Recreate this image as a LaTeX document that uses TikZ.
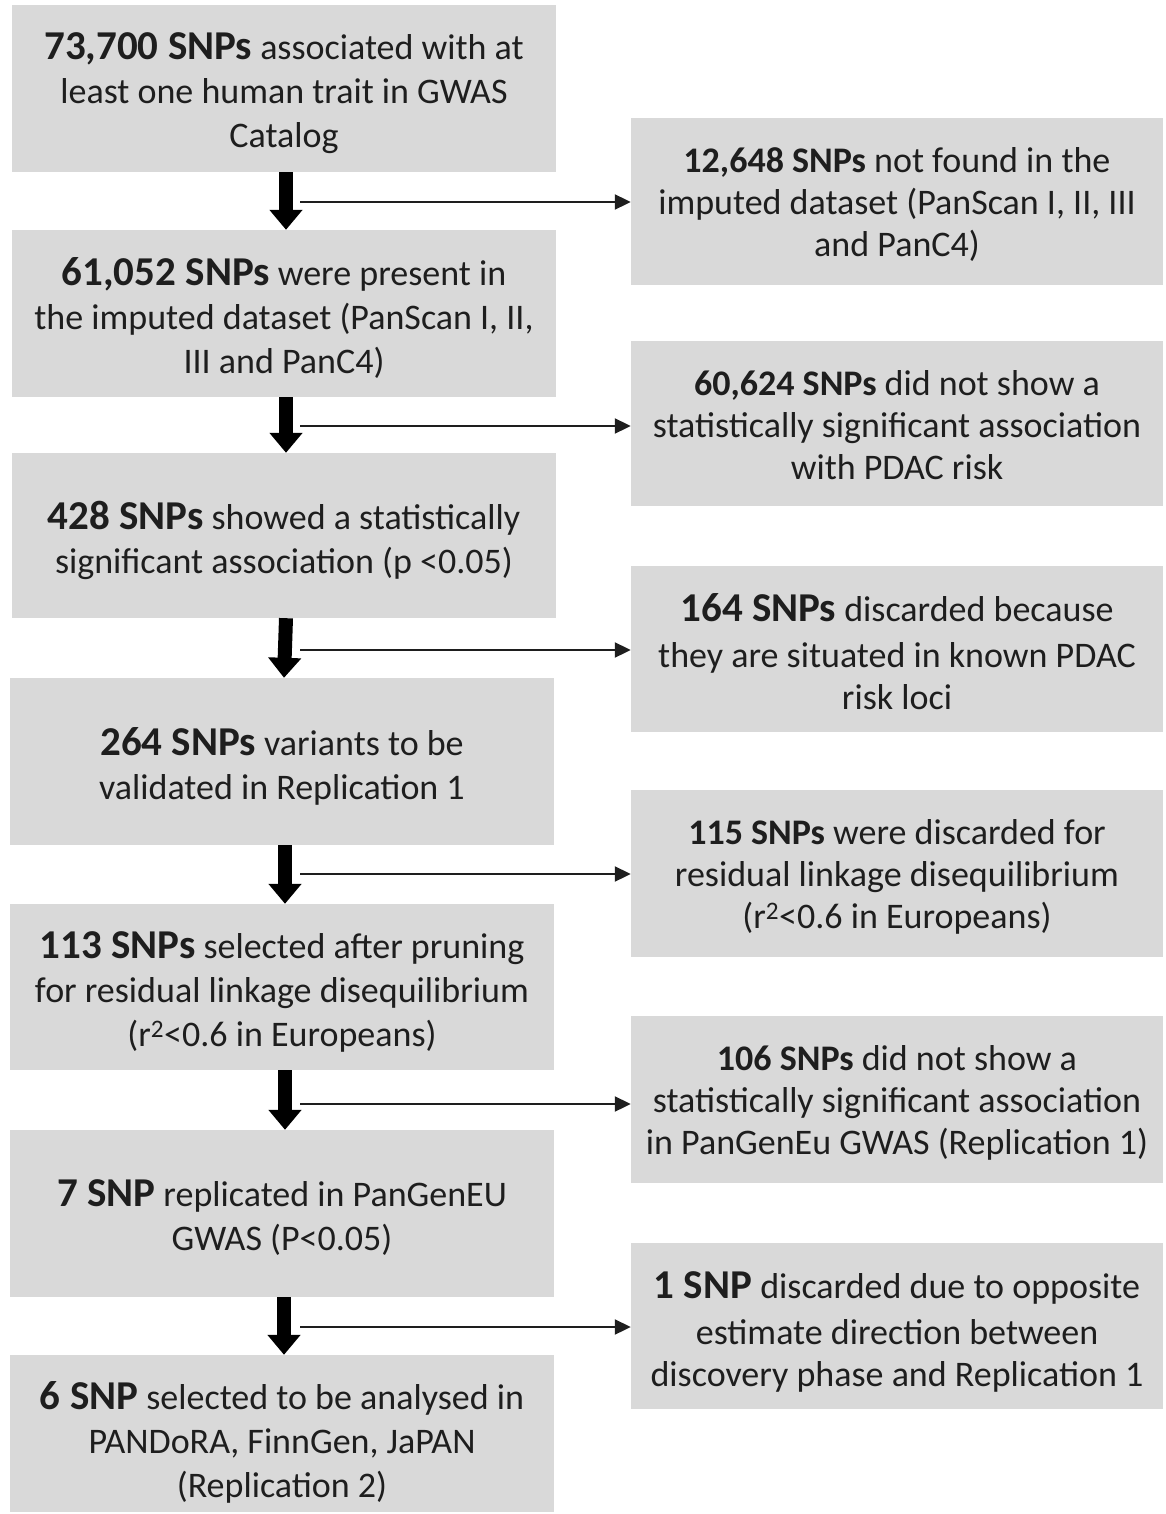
\documentclass[tikz,border=0pt]{standalone}
\usepackage{fontspec}
\setmainfont{Carlito}
\usetikzlibrary{arrows.meta}
\definecolor{boxgray}{HTML}{D9D9D9}
\definecolor{textc}{HTML}{1E1E1E}
\newcommand\lfont{\fontsize{36}{44}\selectfont}
\newcommand\rfont{\fontsize{36}{42}\selectfont}
\newcommand\Lb[1]{{\fontsize{41}{44}\selectfont\bfseries #1}}
\newcommand\Rb[1]{{\fontsize{41}{42}\selectfont\bfseries #1}}
\newcommand\Rs[1]{{\bfseries #1}}
\begin{document}
\begin{tikzpicture}[x=1pt,y=-1pt,
  lbox/.style={fill=boxgray, minimum width=544pt, minimum height=167pt, inner sep=0pt},
  rbox/.style={fill=boxgray, minimum width=532pt, minimum height=167pt, inner sep=0pt},
  ltext/.style={inner sep=0pt, align=center, font=\lfont, text=textc},
  rtext/.style={inner sep=0pt, align=center, font=\rfont, text=textc},
  bigarrow/.style={line width=14pt, -{Triangle[width=32pt,length=20pt]}},
  thinarrow/.style={line width=2pt, draw=textc, -{Triangle[width=15pt,length=16pt]}}]
\useasboundingbox (0,0) rectangle (1165,1514);

% left column boxes
\node[lbox] (L1) at (284,88.5) {};
\node[lbox] (L2) at (284,313.5) {};
\node[lbox, minimum height=165pt] (L3) at (284,535.5) {};
\node[lbox] (L4) at (282,761.5) {};
\node[lbox, minimum height=166pt] (L5) at (282,987) {};
\node[lbox] (L6) at (282,1213.5) {};
\node[lbox, minimum height=157pt] (L7) at (282,1433.5) {};
% left column texts
\node[ltext] (L1t) at ([yshift=-5pt]L1.center) {\Lb{73,700 SNPs} associated with at\\least one human trait in GWAS\\Catalog};
\node[ltext] (L2t) at ([yshift=-4.5pt]L2.center) {\Lb{61,052 SNPs} were present in\\the imputed dataset (PanScan I, II,\\III and PanC4)};
\node[ltext] (L3t) at ([yshift=-5pt]L3.center) {\Lb{428 SNPs} showed a statistically\\significant association (p <0.05)};
\node[ltext] (L4t) at ([yshift=-5pt]L4.center) {\Lb{264 SNPs} variants to be\\validated in Replication 1};
\node[ltext] (L5t) at ([yshift=-5pt]L5.center) {\Lb{113 SNPs} selected after pruning\\for residual linkage disequilibrium\\(r\textsuperscript{2}<0.6 in Europeans)};
\node[ltext] (L6t) at ([yshift=-4pt]L6.center) {\Lb{7 SNP} replicated in PanGenEU\\GWAS (P<0.05)};
\node[ltext] (L7t) at ([yshift=-8.5pt]L7.center) {\Lb{6 SNP} selected to be analysed in\\PANDoRA, FinnGen, JaPAN\\(Replication 2)};

% right column boxes
\node[rbox] (R1) at (897,201.5) {};
\node[rbox, minimum height=165pt] (R2) at (897,423.5) {};
\node[rbox, minimum height=166pt] (R3) at (897,649) {};
\node[rbox] (R4) at (897,873.5) {};
\node[rbox] (R5) at (897,1099.5) {};
\node[rbox, minimum height=166pt] (R6) at (897,1326) {};
% right column texts
\node[rtext] (R1t) at ([yshift=-3pt]R1.center) {\Rs{12,648 SNPs} not found in the\\imputed dataset (PanScan I, II, III\\and PanC4)};
\node[rtext] (R2t) at ([yshift=-2pt]R2.center) {\Rs{60,624 SNPs} did not show a\\statistically significant association\\with PDAC risk};
\node[rtext] (R3t) at ([yshift=-2.5pt]R3.center) {\Rb{164 SNPs} discarded because\\[4pt]they are situated in known PDAC\\risk loci};
\node[rtext] (R4t) at ([yshift=-3pt]R4.center) {\Rs{115 SNPs} were discarded for\\residual linkage disequilibrium\\(r\textsuperscript{2}<0.6 in Europeans)};
\node[rtext] (R5t) at ([yshift=-3pt]R5.center) {\Rs{106 SNPs} did not show a\\statistically significant association\\in PanGenEu GWAS (Replication 1)};
\node[rtext] (R6t) at ([yshift=-5.5pt]R6.center) {\Rb{1 SNP} discarded due to opposite\\[4pt]estimate direction between\\discovery phase and Replication 1};

% thick down arrows
\draw[bigarrow] ([xshift=2pt]L1.south) -- ([xshift=2pt]L2.north);
\draw[bigarrow] ([xshift=2pt]L2.south) -- ([xshift=2pt]L3.north);
\draw[bigarrow] ([xshift=2pt]L3.south) -- ([xshift=2pt]L4.north);
\draw[bigarrow] ([xshift=3pt]L4.south) -- ([xshift=3pt]L5.north);
\draw[bigarrow] ([xshift=3pt]L5.south) -- ([xshift=3pt]L6.north);
\draw[bigarrow] ([xshift=2pt]L6.south) -- ([xshift=2pt]L7.north);

% thin side arrows
\coordinate (s1) at (300,202);
\coordinate (s2) at (300,426);
\coordinate (s3) at (300,650);
\coordinate (s4) at (300,874);
\coordinate (s5) at (300,1104);
\coordinate (s6) at (300,1327);
\draw[thinarrow] (s1) -- (s1 -| R1.west);
\draw[thinarrow] (s2) -- (s2 -| R2.west);
\draw[thinarrow] (s3) -- (s3 -| R3.west);
\draw[thinarrow] (s4) -- (s4 -| R4.west);
\draw[thinarrow] (s5) -- (s5 -| R5.west);
\draw[thinarrow] (s6) -- (s6 -| R6.west);
\end{tikzpicture}
\end{document}
